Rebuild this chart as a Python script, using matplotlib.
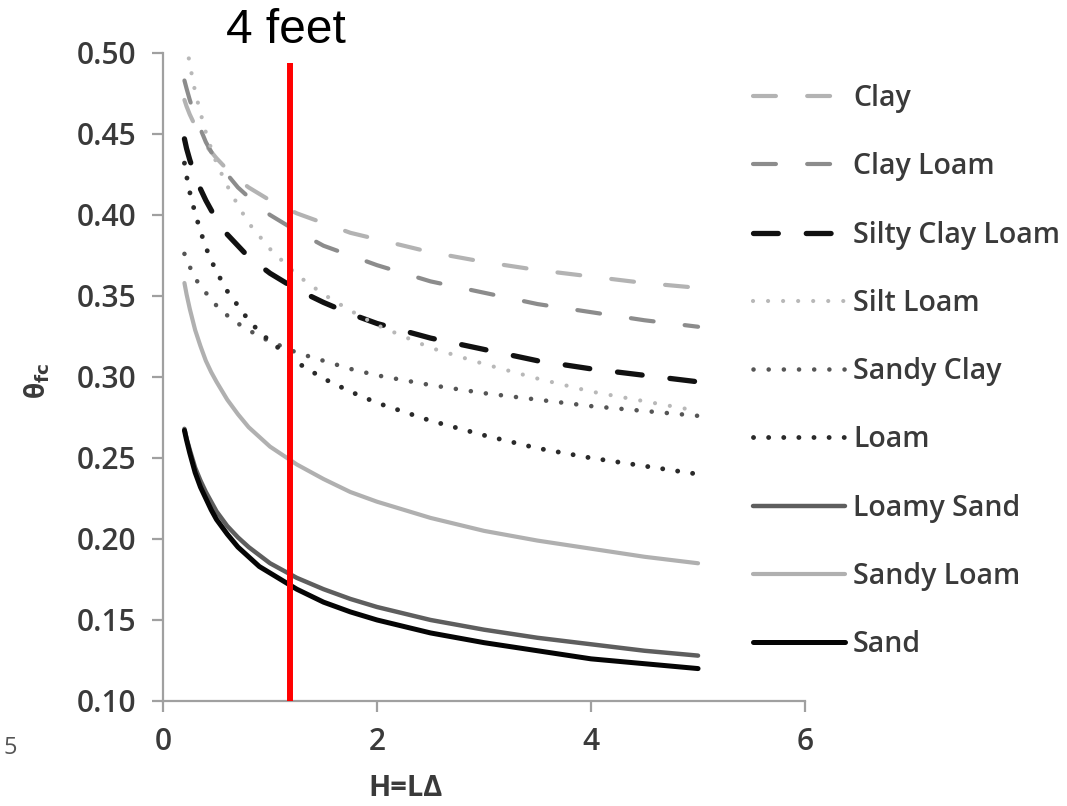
import matplotlib
matplotlib.use('Agg')
import matplotlib.pyplot as plt

# H values where the curves were read
h_values = [0.2, 0.22, 0.25, 0.3, 0.35, 0.4, 0.45, 0.5, 0.6, 0.7, 0.8, 0.9, 1.0,
            1.25, 1.5, 1.75, 2.0, 2.5, 3.0, 3.5, 4.0, 4.5, 5.0]

clay = [0.471, 0.467, 0.462, 0.455, 0.449, 0.443, 0.439, 0.435, 0.428, 0.422, 0.417, 0.413,
        0.409, 0.401, 0.395, 0.389, 0.385, 0.377, 0.371, 0.366, 0.362, 0.358, 0.355]
clay_loam = [0.483, 0.478, 0.471, 0.461, 0.453, 0.445, 0.439, 0.434, 0.425, 0.417, 0.411, 0.405,
             0.400, 0.390, 0.381, 0.375, 0.369, 0.359, 0.352, 0.345, 0.340, 0.335, 0.331]
silty_clay_loam = [0.447, 0.441, 0.434, 0.424, 0.416, 0.409, 0.403, 0.397, 0.388, 0.381, 0.374, 0.369,
                   0.364, 0.354, 0.346, 0.339, 0.333, 0.324, 0.317, 0.310, 0.305, 0.301, 0.297]
silt_loam = [0.515, 0.505, 0.493, 0.476, 0.463, 0.451, 0.441, 0.432, 0.418, 0.406, 0.395, 0.387,
             0.379, 0.363, 0.351, 0.341, 0.332, 0.318, 0.308, 0.299, 0.291, 0.285, 0.279]
sandy_clay = [0.376, 0.372, 0.368, 0.361, 0.356, 0.352, 0.348, 0.344, 0.338, 0.333, 0.329, 0.325,
              0.322, 0.315, 0.310, 0.305, 0.301, 0.295, 0.290, 0.286, 0.282, 0.279, 0.276]
loam = [0.432, 0.424, 0.414, 0.401, 0.390, 0.380, 0.372, 0.365, 0.353, 0.344, 0.335, 0.328,
        0.322, 0.309, 0.299, 0.291, 0.284, 0.273, 0.264, 0.256, 0.250, 0.245, 0.240]
loamy_sand = [0.268, 0.262, 0.255, 0.244, 0.236, 0.229, 0.223, 0.217, 0.208, 0.201, 0.195, 0.190,
              0.185, 0.176, 0.169, 0.163, 0.158, 0.150, 0.144, 0.139, 0.135, 0.131, 0.128]
sandy_loam = [0.358, 0.351, 0.342, 0.329, 0.319, 0.310, 0.303, 0.297, 0.286, 0.277, 0.269, 0.263,
              0.257, 0.246, 0.237, 0.229, 0.223, 0.213, 0.205, 0.199, 0.194, 0.189, 0.185]
sand = [0.267, 0.261, 0.253, 0.241, 0.232, 0.225, 0.218, 0.212, 0.203, 0.195, 0.189, 0.183,
        0.179, 0.169, 0.161, 0.155, 0.150, 0.142, 0.136, 0.131, 0.126, 0.123, 0.120]

soil_names = ['Clay', 'Clay Loam', 'Silty Clay Loam', 'Silt Loam', 'Sandy Clay',
              'Loam', 'Loamy Sand', 'Sandy Loam', 'Sand']
soil_series = [clay, clay_loam, silty_clay_loam, silt_loam, sandy_clay,
               loam, loamy_sand, sandy_loam, sand]

x_ticks = [0, 2, 4, 6]
y_ticks = [0.10, 0.15, 0.20, 0.25, 0.30, 0.35, 0.40, 0.45, 0.50]

# 4 feet marker
feet_x = 1.19
feet_top = 0.494
feet_label = '4 feet'

# line styles per soil (colour, width, dash pattern)
styles = [
    ('#b3b3b3', 3.0, (0, (5.5, 7.5))),
    ('#8c8c8c', 3.0, (0, (5.5, 7.5))),
    ('#111111', 3.8, (0, (4.7, 5.3))),
    ('#b8b8b8', 3.0, (0, (0.01, 3.6))),
    ('#555555', 3.3, (0, (0.01, 3.3))),
    ('#2a2a2a', 3.5, (0, (0.01, 3.1))),
    ('#5e5e5e', 3.2, '-'),
    ('#b0b0b0', 3.0, '-'),
    ('#050505', 3.6, '-'),
]

txt_color = '#3a3a3a'
axis_color = '#a0a0a0'
font = ['Open Sans', 'DejaVu Sans']
plt.rcParams['font.family'] = font

fig = plt.figure(figsize=(10.67, 8.06), dpi=100)
ax = fig.add_axes([0.1528, 0.1303, 0.6017, 0.804])

for name, vals, (col, lw, ls) in zip(soil_names, soil_series, styles):
    ax.plot(h_values, vals, color=col, lw=lw, linestyle=ls, label=name,
            dash_capstyle='round', solid_capstyle='round')

ax.vlines(feet_x, y_ticks[0], feet_top, color='#ff0000', lw=4.3, zorder=5, clip_on=False)

ax.set_xlim(x_ticks[0], x_ticks[-1])
ax.set_ylim(y_ticks[0], y_ticks[-1])
ax.set_xticks(x_ticks)
ax.set_yticks(y_ticks)
ax.set_xticklabels([str(t) for t in x_ticks])
ax.set_yticklabels(['%.2f' % t for t in y_ticks])

for side in ['top', 'right']:
    ax.spines[side].set_visible(False)
for side in ['left', 'bottom']:
    ax.spines[side].set_color(axis_color)
    ax.spines[side].set_linewidth(1.6)
ax.tick_params(axis='both', direction='out', length=8, width=1.6, color=axis_color,
               labelsize=21.5, labelcolor=txt_color, pad=11)
for lab in ax.get_xticklabels() + ax.get_yticklabels():
    lab.set_fontweight('semibold')

fig.text(286 / 1067, 1 - 43 / 806, feet_label, ha='center', va='baseline',
         fontsize=34.5, family='Liberation Sans', color='black')
fig.text(37 / 1067, 1 - 381 / 806, r'θ$_{\mathbf{fc}}$', rotation=90, ha='center', va='center',
         fontsize=19, fontweight='bold', color=txt_color)
fig.text(406 / 1067, 1 - 789 / 806, 'H=LΔ', ha='center', va='center',
         fontsize=21, fontweight='bold', color=txt_color)
fig.text(10 / 1067, 1 - 748 / 806, '5', ha='center', va='center',
         fontsize=17, color='#555555')

fig.legend(loc='upper left', bbox_to_anchor=(753 / 1067, 1 - 84 / 806), frameon=False,
           prop={'size': 20.5, 'weight': 'semibold'}, labelcolor=txt_color,
           handlelength=3.23, handletextpad=0.28, labelspacing=1.38, borderpad=0, borderaxespad=0)

plt.savefig('out.png', dpi=100)
